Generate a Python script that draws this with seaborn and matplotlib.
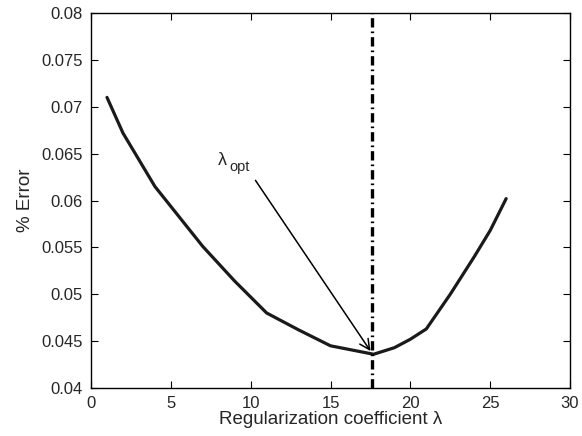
import matplotlib
matplotlib.use("Agg")
import matplotlib.pyplot as plt
import seaborn as sns
import pandas as pd

# Validation error against regularization coefficient
lam = [1, 2, 4, 7, 9, 11, 13, 15, 16.5, 17.7, 19, 20, 21, 22.5, 24, 25, 26]
err = [0.0710, 0.0672, 0.0615, 0.0551, 0.0514, 0.0480, 0.0462, 0.0445, 0.0440,
       0.0436, 0.0443, 0.0452, 0.0463, 0.0500, 0.0540, 0.0568, 0.0602]
lam_opt = 17.6
x_ticks = [0, 5, 10, 15, 20, 25, 30]
y_ticks = [0.04, 0.045, 0.05, 0.055, 0.06, 0.065, 0.07, 0.075, 0.08]
y_tick_labels = ["0.04", "0.045", "0.05", "0.055", "0.06", "0.065", "0.07", "0.075", "0.08"]

sns.set_style("ticks")
plt.rcParams["font.family"] = ["Liberation Sans", "DejaVu Sans"]
plt.rcParams["xtick.direction"] = "in"
plt.rcParams["ytick.direction"] = "in"

df = pd.DataFrame({"lam": lam, "err": err})

fig = plt.figure(figsize=(5.82, 4.36), dpi=100)
ax = fig.add_axes([0.1564, 0.1101, 0.823, 0.860])

sns.lineplot(data=df, x="lam", y="err", ax=ax, color="#1a1a1a", linewidth=2.3)
ax.axvline(lam_opt, color="black", linewidth=2.4, linestyle=(0, (2.8, 1.2, 0.5, 1.2)))

# optimal-lambda marker
ax.annotate("", xy=(lam_opt, 0.0437), xytext=(10.2, 0.0624),
            arrowprops=dict(arrowstyle="->", color="black", lw=1.1, mutation_scale=18))
ax.text(7.95, 0.0643, "λ", fontsize=13, va="center", ha="left")
ax.text(8.65, 0.0636, "opt", fontsize=10.5, va="center", ha="left")

ax.set_xlim(0, 30)
ax.set_ylim(0.04, 0.08)
ax.set_xticks(x_ticks)
ax.set_yticks(y_ticks)
ax.set_yticklabels(y_tick_labels)
ax.tick_params(axis="both", labelsize=12, length=5, width=0.8, top=True, right=True,
               color="black", pad=6)
for s in ax.spines.values():
    s.set_visible(True)
    s.set_linewidth(1.0)
    s.set_color("black")

ax.set_xlabel("Regularization coefficient λ", fontsize=13.5, labelpad=0)
ax.set_ylabel("% Error", fontsize=13.5, labelpad=5)

fig.savefig("out.png", dpi=100)
